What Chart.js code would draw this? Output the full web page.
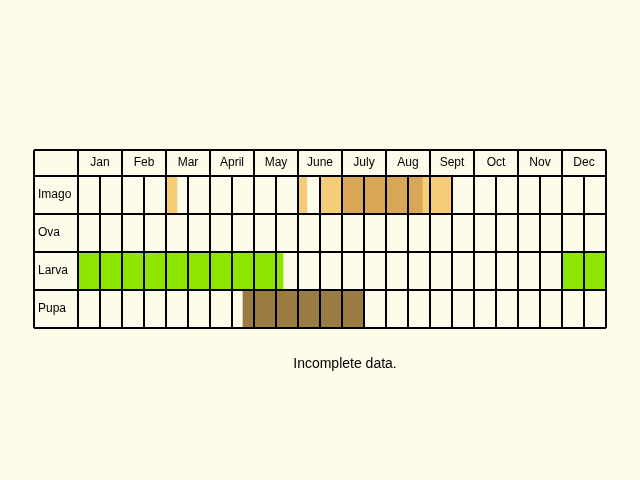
<!DOCTYPE html>
<html>
<head>
<script src="https://cdn.jsdelivr.net/npm/chart.js@4"></script>
<style>
  body { margin: 0; background: #fdfbea; }
  #wrap { width: 640px; height: 480px; }
</style>
</head>
<body>
<div id="wrap"><canvas id="mycanvas"></canvas></div>
<script>
var months = ['Jan', 'Feb', 'Mar', 'April', 'May', 'June', 'July', 'Aug', 'Sept', 'Oct', 'Nov', 'Dec'];
var stages = ['Imago', 'Ova', 'Larva', 'Pupa'];

// periods in month units (0 = start of Jan)
var imagoLight = [[2.0, 2.25], [5.0, 5.2], [5.5, 6.0], [7.84, 8.5]];
var imagoDark = [[6.0, 7.84]];
var larvaPeriods = [[0, 4.66], [11, 12]];
var pupaPeriods = [[3.75, 6.5]];

function rows(stage, periods) {
    return periods.map(function(p) { return { x: p, y: stage }; });
}

var tablePlugin = {
    id: 'table',
    afterDatasetsDraw: function(chart) {
        var ctx = chart.ctx;
        var xs = chart.scales.x, ys = chart.scales.y;
        var top = chart.chartArea.top, bottom = chart.chartArea.bottom;
        var headTop = top - 26;
        var left = xs.getPixelForValue(-1), right = xs.getPixelForValue(12);
        var rowH = (bottom - top) / stages.length;
        ctx.save();
        ctx.strokeStyle = '#000';
        ctx.lineWidth = 2;
        ctx.beginPath();
        // horizontal lines
        ctx.moveTo(left, headTop); ctx.lineTo(right, headTop);
        for (var r = 0; r <= stages.length; r++) {
            ctx.moveTo(left, top + r * rowH); ctx.lineTo(right, top + r * rowH);
        }
        // vertical lines
        ctx.moveTo(left, headTop); ctx.lineTo(left, bottom);
        for (var m = 0; m <= 12; m++) {
            var px = xs.getPixelForValue(m);
            ctx.moveTo(px, headTop); ctx.lineTo(px, bottom);
            if (m < 12) {
                var hx = xs.getPixelForValue(m + 0.5);
                ctx.moveTo(hx, top); ctx.lineTo(hx, bottom);
            }
        }
        ctx.stroke();
        ctx.fillStyle = '#000';
        ctx.font = '12px "Liberation Sans", Arial, sans-serif';
        ctx.textBaseline = 'middle';
        ctx.textAlign = 'center';
        months.forEach(function(mn, i) {
            ctx.fillText(mn, xs.getPixelForValue(i + 0.5), headTop + 13);
        });
        ctx.textAlign = 'left';
        stages.forEach(function(s, i) {
            ctx.fillText(s, left + 4, top + (i + 0.5) * rowH);
        });
        ctx.font = '14px "Liberation Sans", Arial, sans-serif';
        ctx.textAlign = 'center';
        ctx.fillText('Incomplete data.', 345, 364);
        ctx.restore();
    }
};

var ctx = document.getElementById('mycanvas');
var chart = new Chart(ctx, {
    type: 'bar',
    data: {
        labels: stages,
        datasets: [
            { data: rows('Imago', imagoLight), backgroundColor: '#f5cd78' },
            { data: rows('Imago', imagoDark), backgroundColor: '#d9a655' },
            { data: rows('Larva', larvaPeriods), backgroundColor: '#8ee600' },
            { data: rows('Pupa', pupaPeriods), backgroundColor: '#9a7c42' }
        ]
    },
    options: {
        indexAxis: 'y',
        responsive: true,
        maintainAspectRatio: false,
        animation: false,
        grouped: false,
        barPercentage: 1,
        categoryPercentage: 1,
        layout: { padding: { left: 34, right: 34, top: 176, bottom: 152 } },
        plugins: { legend: { display: false }, tooltip: { enabled: false } },
        scales: {
            x: { type: 'linear', min: -1, max: 12, display: false },
            y: { type: 'category', labels: stages, display: false }
        }
    },
    plugins: [tablePlugin]
});
</script>
</body>
</html>
